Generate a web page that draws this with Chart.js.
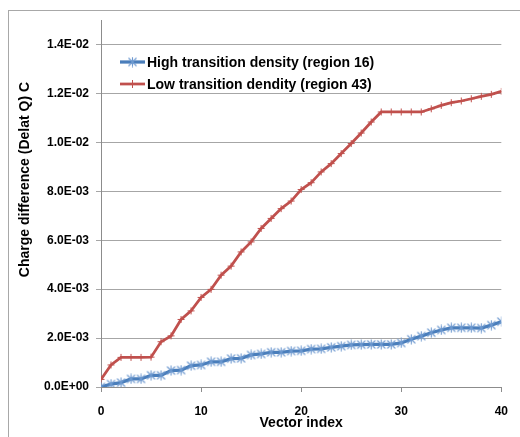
<!DOCTYPE html>
<html>
<head>
<meta charset="UTF-8">
<title>Charge difference vs vector index</title>
<script src="https://cdn.jsdelivr.net/npm/chart.js@4/dist/chart.umd.min.js"></script>
<style>
html,body{margin:0;padding:0;background:#fff;}
#wrap{width:520px;height:437px;}
</style>
</head>
<body>
<div id="wrap"><canvas id="chart" width="520" height="437"></canvas></div>
<script>
// ===== DATA =====
const vectorIndex = [0,1,2,3,4,5,6,7,8,9,10,11,12,13,14,15,16,17,18,19,20,
                     21,22,23,24,25,26,27,28,29,30,31,32,33,34,35,36,37,38,39,40];
// region 16
const highDensity = [0.00000,0.00012,0.00018,0.00033,0.00033,0.00048,0.00048,0.00067,0.00069,0.00087,
                     0.00090,0.00103,0.00103,0.00116,0.00117,0.00131,0.00135,0.00142,0.00142,0.00147,
                     0.00148,0.00155,0.00156,0.00162,0.00167,0.00172,0.00173,0.00174,0.00174,0.00174,
                     0.00180,0.00195,0.00208,0.00222,0.00233,0.00242,0.00242,0.00242,0.00241,0.00253,
                     0.00267];
// region 43
const lowDensity = [0.00031,0.00090,0.00121,0.00121,0.00121,0.00122,0.00185,0.00209,0.00276,0.00311,
                    0.00366,0.00399,0.00457,0.00494,0.00552,0.00593,0.00648,0.00689,0.00729,0.00760,
                    0.00807,0.00835,0.00879,0.00913,0.00954,0.00995,0.01038,0.01083,0.01124,0.01124,
                    0.01124,0.01124,0.01124,0.01137,0.01151,0.01162,0.01169,0.01178,0.01188,0.01196,
                    0.01208];
const seriesNames = ['High transition density (region 16)','Low transition dendity (region 43)'];
const yTicks = [0,0.002,0.004,0.006,0.008,0.010,0.012,0.014];
const xTicks = [0,10,20,30,40];

const FONT = 'Arial, "Liberation Sans", sans-serif';
Chart.defaults.font.family = FONT;
Chart.defaults.color = '#000';

// "1.4E-02" style labels
function sci(v){
    if(Math.abs(v) < 1e-12) return '0.0E+00';
    let e = Math.floor(Math.log10(Math.abs(v)) + 1e-9);
    let m = v / Math.pow(10,e);
    if(Math.round(m*10) >= 100){ m /= 10; e += 1; }
    const sign = e < 0 ? '-' : '+';
    return m.toFixed(1) + 'E' + sign + String(Math.abs(e)).padStart(2,'0');
}

// asterisk marker (x with a vertical bar)
function starMarker(color){
    const c = document.createElement('canvas');
    c.width = 11; c.height = 11;
    const g = c.getContext('2d');
    g.strokeStyle = color; g.lineWidth = 1.1;
    g.beginPath();
    g.moveTo(1.5,1.5); g.lineTo(9.5,9.5);
    g.moveTo(9.5,1.5); g.lineTo(1.5,9.5);
    g.moveTo(5.5,0.5); g.lineTo(5.5,10.5);
    g.stroke();
    return c;
}
const blueStar = starMarker('#6f9ad0');

const BLUE = '#4A7EBB';
const RED = '#C0504D';

// outer frame + white background
const framePlugin = {
    id:'frame',
    beforeDraw(chart){
        const ctx = chart.ctx;
        ctx.save();
        ctx.fillStyle = '#fff';
        ctx.fillRect(0,0,chart.width,chart.height);
        ctx.strokeStyle = '#a8a8a8';
        ctx.lineWidth = 1;
        ctx.strokeRect(8.5,10.5,chart.width+20,chart.height+20);
        ctx.restore();
    }
};

// rotated y axis title
const yTitlePlugin = {
    id:'yTitle',
    afterDraw(chart){
        const ctx = chart.ctx, a = chart.chartArea;
        ctx.save();
        ctx.translate(25, (a.top + a.bottom)/2 - 24);
        ctx.rotate(-Math.PI/2);
        ctx.font = 'bold 14px ' + FONT;
        ctx.fillStyle = '#000';
        ctx.textAlign = 'center';
        ctx.textBaseline = 'middle';
        ctx.fillText('Charge difference (Delat Q) C',0,0);
        ctx.restore();
    }
};

// legend inside the plot, upper left
const legendPlugin = {
    id:'innerLegend',
    afterDatasetsDraw(chart){
        const ctx = chart.ctx, a = chart.chartArea;
        const x0 = a.left + 19, x1 = x0 + 25;
        chart.data.datasets.forEach((ds,i)=>{
            const y = a.top + 42 + i*22;
            ctx.save();
            ctx.strokeStyle = ds.borderColor;
            ctx.lineWidth = ds.borderWidth;
            ctx.beginPath(); ctx.moveTo(x0,y); ctx.lineTo(x1,y); ctx.stroke();
            const cx = (x0+x1)/2;
            if(ds.pointStyle === 'cross'){
                ctx.lineWidth = 1;
                ctx.strokeStyle = ds.pointBorderColor;
                ctx.beginPath(); ctx.moveTo(cx,y-4); ctx.lineTo(cx,y+4); ctx.stroke();
            } else {
                ctx.drawImage(ds.pointStyle, cx-5.5, y-5.5);
            }
            ctx.font = 'bold 14px ' + FONT;
            ctx.fillStyle = '#000';
            ctx.textBaseline = 'middle';
            ctx.fillText(ds.label, x1+2, y+1);
            ctx.restore();
        });
    }
};

const ctx = document.getElementById('chart').getContext('2d');
const chart = new Chart(ctx,{
    type:'line',
    data:{
        datasets:[
            {
                label:seriesNames[0],
                data:vectorIndex.map((v,i)=>({x:v,y:highDensity[i]})),
                borderColor:BLUE,
                borderWidth:3.25,
                pointStyle:blueStar,
                pointRadius:5,
                pointBorderColor:'#6f9ad0',
                pointBackgroundColor:'#6f9ad0',
                tension:0
            },
            {
                label:seriesNames[1],
                data:vectorIndex.map((v,i)=>({x:v,y:lowDensity[i]})),
                borderColor:RED,
                borderWidth:2.75,
                pointStyle:'cross',
                pointRadius:3.5,
                pointBorderWidth:1,
                pointBorderColor:RED,
                pointBackgroundColor:RED,
                tension:0
            }
        ]
    },
    options:{
        responsive:false,
        animation:false,
        devicePixelRatio:1,
        layout:{padding:{top:20,right:17,left:0,bottom:0}},
        plugins:{legend:{display:false},tooltip:{enabled:false}},
        scales:{
            x:{
                type:'linear',
                min:0, max:40,
                afterBuildTicks:s=>{ s.ticks = xTicks.map(v=>({value:v})); },
                afterFit:s=>{ s.height = 50; },
                grid:{drawOnChartArea:false, tickLength:5, color:'#8c8c8c'},
                border:{color:'#8c8c8c'},
                ticks:{padding:12, color:'#000', font:{size:12, weight:'bold'}, maxRotation:0},
                title:{display:true, text:'Vector index', color:'#000',
                       font:{size:14, weight:'bold'}, padding:{top:0,bottom:5}}
            },
            y:{
                min:0, max:0.015,
                afterBuildTicks:s=>{ s.ticks = yTicks.map(v=>({value:v})); },
                afterFit:s=>{ s.width = 101; },
                grid:{color:'#a6a6a6', tickLength:5},
                border:{color:'#8c8c8c'},
                ticks:{padding:7, color:'#000', font:{size:12, weight:'bold'}, callback:v=>sci(v)}
            }
        }
    },
    plugins:[framePlugin, yTitlePlugin, legendPlugin]
});
</script>
</body>
</html>
